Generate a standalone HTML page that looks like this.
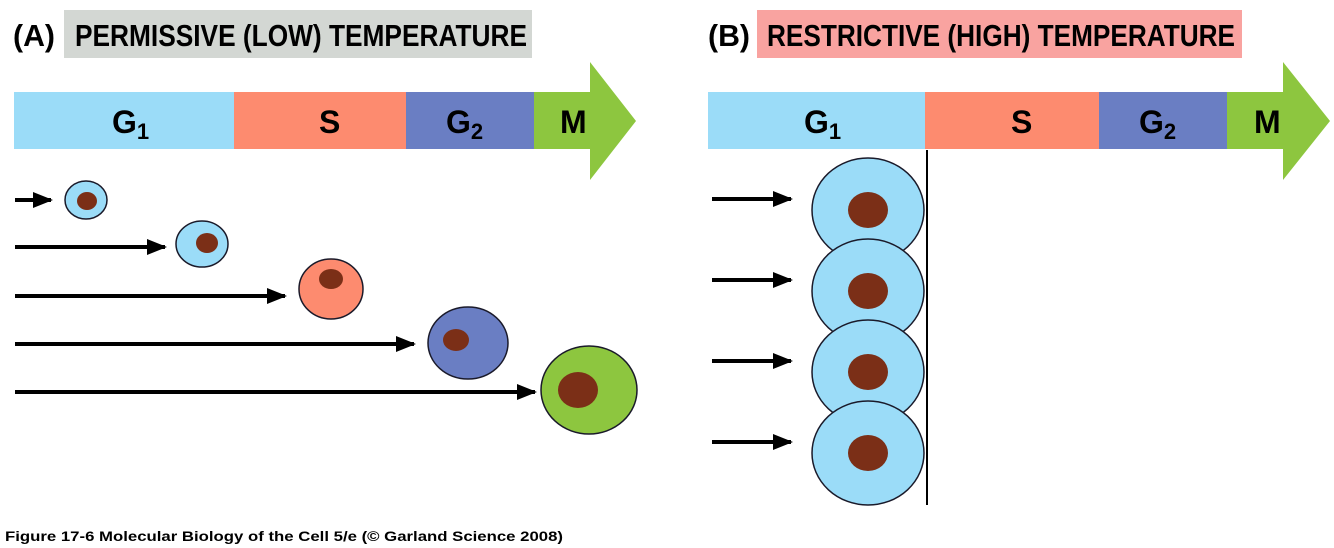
<!DOCTYPE html>
<html><head><meta charset="utf-8"><style>
html,body{margin:0;padding:0;background:#fff;}
svg{display:block;}
text{font-family:"Liberation Sans",sans-serif;font-weight:bold;fill:#000;}
</style></head><body>
<svg width="1334" height="548" viewBox="0 0 1334 548" xmlns="http://www.w3.org/2000/svg">
<defs>
<marker id="ah" markerWidth="5" markerHeight="4" refX="4.5" refY="2" orient="auto" markerUnits="strokeWidth">
<path d="M0,0 L5,2 L0,4 z" fill="#000"/>
</marker>
</defs>
<rect x="64" y="10" width="468" height="48" fill="#d3d7d3"/>
<text x="13" y="46" font-size="31" textLength="42" lengthAdjust="spacingAndGlyphs">(A)</text>
<text x="75" y="46" font-size="31" textLength="452" lengthAdjust="spacingAndGlyphs">PERMISSIVE (LOW) TEMPERATURE</text>
<rect x="14" y="92" width="221" height="57" fill="#9bdcf8"/>
<rect x="234" y="92" width="173" height="57" fill="#fd8b6f"/>
<rect x="406" y="92" width="129" height="57" fill="#6a7ec3"/>
<polygon points="534,92 590,92 590,62 636,121 590,180 590,149 534,149" fill="#8dc63f"/>
<text x="112" y="133" font-size="32">G<tspan font-size="22" dy="6">1</tspan></text>
<text x="319" y="133" font-size="32">S</text>
<text x="446" y="133" font-size="32">G<tspan font-size="22" dy="6">2</tspan></text>
<text x="560" y="133" font-size="32">M</text>
<g stroke="#000" stroke-width="4" marker-end="url(#ah)">
<line x1="15" y1="200" x2="51" y2="200"/>
<line x1="15" y1="247" x2="165" y2="247"/>
<line x1="15" y1="296" x2="285" y2="296"/>
<line x1="15" y1="344" x2="414" y2="344"/>
<line x1="15" y1="392" x2="535" y2="392"/>
</g>
<g stroke="#1a1a2a" stroke-width="1.5">
<ellipse cx="86" cy="200" rx="21" ry="19" fill="#9bdcf8"/>
<ellipse cx="202" cy="244" rx="26" ry="23" fill="#9bdcf8"/>
<ellipse cx="331" cy="289" rx="32" ry="30" fill="#fd8b6f"/>
<ellipse cx="468" cy="343" rx="40" ry="36" fill="#6a7ec3"/>
<ellipse cx="589" cy="390" rx="48" ry="44" fill="#8dc63f"/>
</g>
<g fill="#7b2f17">
<ellipse cx="87" cy="201" rx="10" ry="9"/>
<ellipse cx="207" cy="243" rx="11" ry="10"/>
<ellipse cx="331" cy="279" rx="12" ry="10"/>
<ellipse cx="456" cy="340" rx="13" ry="11"/>
<ellipse cx="578" cy="390" rx="20" ry="18"/>
</g>
<rect x="757" y="10" width="485" height="48" fill="#f9a3a0"/>
<text x="708" y="46" font-size="31" textLength="42" lengthAdjust="spacingAndGlyphs">(B)</text>
<text x="767" y="46" font-size="31" textLength="468" lengthAdjust="spacingAndGlyphs">RESTRICTIVE (HIGH) TEMPERATURE</text>
<rect x="708" y="92" width="218" height="57" fill="#9bdcf8"/>
<rect x="925" y="92" width="175" height="57" fill="#fd8b6f"/>
<rect x="1099" y="92" width="129" height="57" fill="#6a7ec3"/>
<polygon points="1227,92 1283,92 1283,62 1330,121 1283,180 1283,149 1227,149" fill="#8dc63f"/>
<text x="804" y="133" font-size="32">G<tspan font-size="22" dy="6">1</tspan></text>
<text x="1011" y="133" font-size="32">S</text>
<text x="1139" y="133" font-size="32">G<tspan font-size="22" dy="6">2</tspan></text>
<text x="1254" y="133" font-size="32">M</text>
<g stroke="#000" stroke-width="4" marker-end="url(#ah)">
<line x1="712" y1="199" x2="791" y2="199"/>
<line x1="712" y1="280" x2="791" y2="280"/>
<line x1="712" y1="361" x2="791" y2="361"/>
<line x1="712" y1="442" x2="791" y2="442"/>
</g>
<g stroke="#1a1a2a" stroke-width="1.5" fill="#9bdcf8">
<ellipse cx="868" cy="210" rx="56" ry="52"/>
<ellipse cx="868" cy="291" rx="56" ry="52"/>
<ellipse cx="868" cy="372" rx="56" ry="52"/>
<ellipse cx="868" cy="453" rx="56" ry="52"/>
</g>
<g fill="#7b2f17">
<ellipse cx="868" cy="210" rx="20" ry="18"/>
<ellipse cx="868" cy="291" rx="20" ry="18"/>
<ellipse cx="868" cy="372" rx="20" ry="18"/>
<ellipse cx="868" cy="453" rx="20" ry="18"/>
</g>
<line x1="927" y1="150" x2="927" y2="505" stroke="#000" stroke-width="2"/>
<text x="5" y="541" font-size="14" textLength="558" lengthAdjust="spacingAndGlyphs" fill="#222">Figure 17-6  Molecular Biology of the Cell 5/e (© Garland Science 2008)</text>
</svg>
</body></html>
